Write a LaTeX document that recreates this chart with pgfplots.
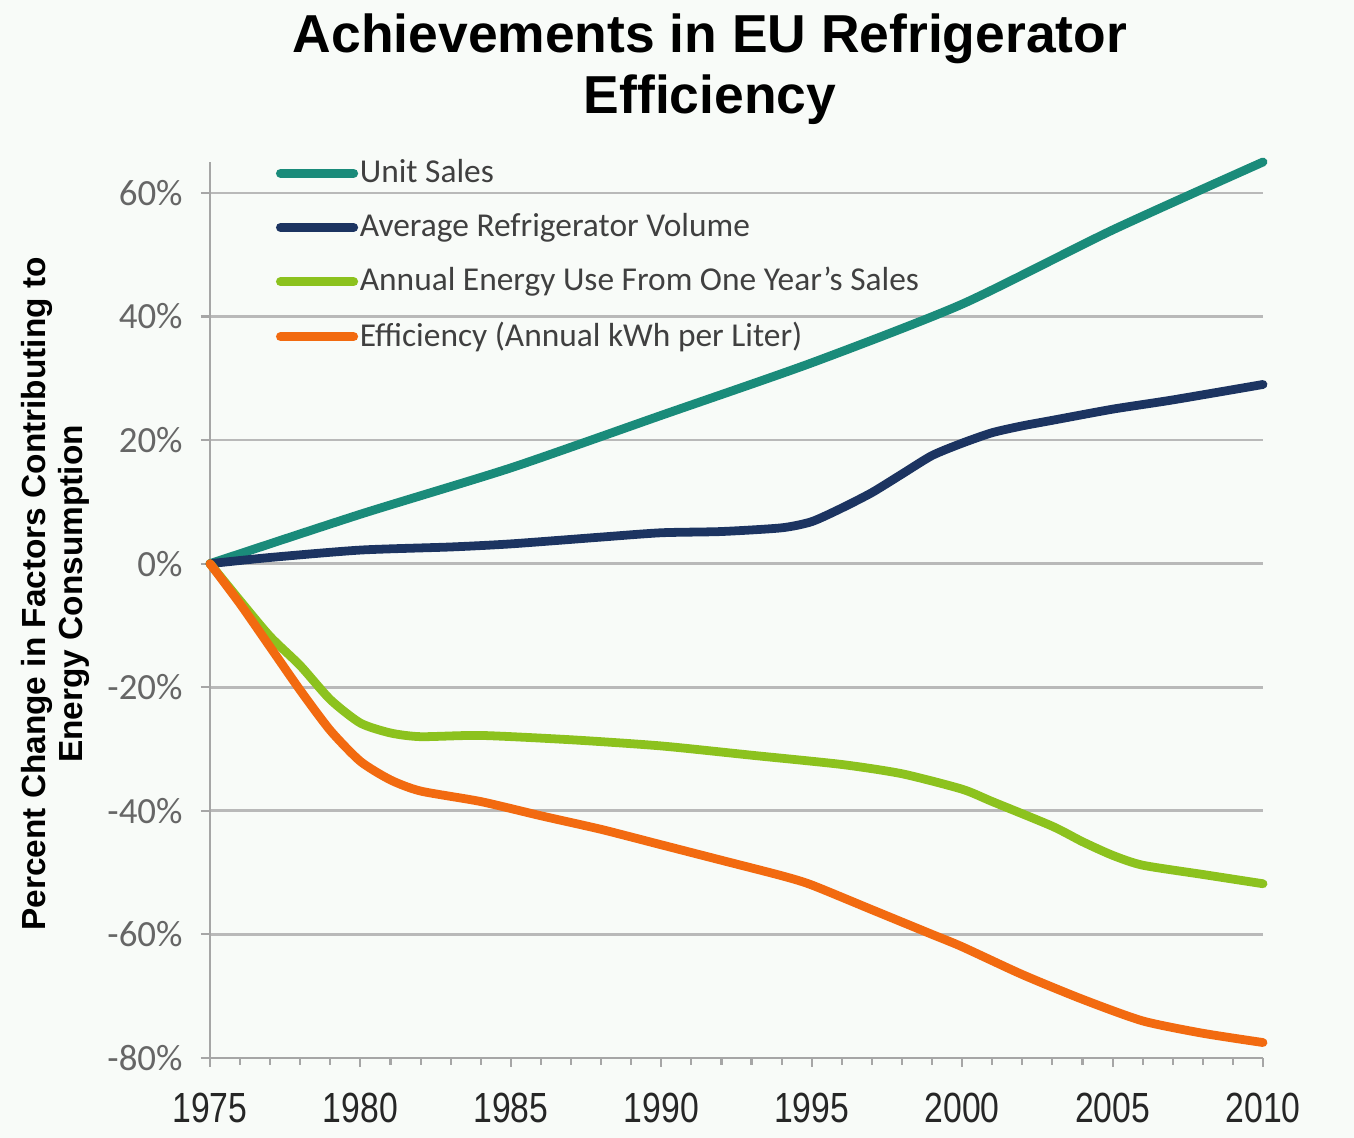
\documentclass[border=0pt]{standalone}
\usepackage{pgfplots}
\pgfplotsset{compat=1.18}
\usepackage{graphicx}
\usepackage{fontspec}
\setmainfont{Carlito}
\newfontfamily\arial{Liberation Sans}
\definecolor{teal1}{HTML}{1A8B7A}
\definecolor{navy1}{HTML}{1C3461}
\definecolor{lime1}{HTML}{8CC21E}
\definecolor{orange1}{HTML}{F26A10}
\definecolor{bg}{HTML}{F8FBF8}
\newcommand\xs[1]{\scalebox{0.8}[1]{#1}}
\begin{document}
\begin{tikzpicture}
\fill[bg] (-2.10,-0.80) rectangle (11.44,10.58);
\path[use as bounding box] (-2.10,-0.80) rectangle (11.44,10.58);
\begin{axis}[
 scale only axis, width=10.53cm, height=8.96cm,
 xmin=1975, xmax=2010, ymin=-80, ymax=65,
 axis x line=bottom, axis y line=left,
 axis line style={-, gray!70, line width=0.8pt},
 xtick={1975,1980,1985,1990,1995,2000,2005,2010},
 xticklabels={\xs{1975},\xs{1980},\xs{1985},\xs{1990},\xs{1995},\xs{2000},\xs{2005},\xs{2010}},
 minor x tick num=4,
 ytick={-80,-60,-40,-20,0,20,40,60},
 yticklabels={-80\%,-60\%,-40\%,-20\%,0\%,20\%,40\%,60\%},
 ymajorgrids, grid style={gray!55, line width=0.8pt},
 tick align=outside, major tick length=0.9mm, minor tick length=0.7mm,
 tick style={gray!70, line width=0.6pt},
 xticklabel style={font=\arial\fontsize{12}{14}\selectfont, text=black!85, yshift=-1.4mm},
 yticklabel style={font=\fontsize{10.5}{12}\selectfont, text=black!60, xshift=-0.6mm},
 clip=false,
 legend style={at={(rel axis cs:0.062,1.006)}, anchor=north west, draw=none, fill=none,
   font=\fontsize{9.5}{11}\selectfont\color{black!75}, row sep=6.3pt, inner sep=0pt,
   nodes={inner sep=0.5pt}},
 legend cell align=left,
 legend image code/.code={\draw[#1, line width=2.6pt, line cap=round] (0mm,0mm) -- (7.3mm,0mm);},
 every axis plot/.append style={line width=2.5pt, smooth, tension=0.4, line cap=round, line join=round},
]
\addplot[teal1] coordinates {(1975,0)(1980,8)(1985,15.5)(1990,24)(1995,32.5)(2000,42)(2005,54)(2010,65)};
\addlegendentry{Unit Sales}
\addplot[navy1] coordinates {(1975,0)(1977,1)(1980,2.2)(1983,2.7)(1985,3.2)(1988,4.3)(1990,5)(1992,5.2)(1994,5.8)(1995,6.8)(1996,9)(1997,11.5)(1998,14.5)(1999,17.5)(2000,19.5)(2001,21.2)(2002,22.3)(2003,23.2)(2005,25)(2007,26.5)(2010,29)};
\addlegendentry{Average Refrigerator Volume}
\addplot[lime1] coordinates {(1975,0)(1976,-6)(1977,-11.8)(1978,-16.5)(1979,-22)(1980,-25.8)(1981,-27.4)(1982,-28)(1984,-27.8)(1987,-28.5)(1990,-29.5)(1993,-31)(1996,-32.5)(1998,-34)(2000,-36.5)(2001,-38.5)(2003,-42.5)(2004,-45)(2005,-47.2)(2006,-48.8)(2008,-50.3)(2010,-51.8)};
\addlegendentry{Annual Energy Use From One Year's Sales}
\addplot[orange1] coordinates {(1975,0)(1976,-6.5)(1977,-13.5)(1978,-20.5)(1979,-27)(1980,-32)(1981,-35)(1982,-36.8)(1984,-38.5)(1986,-40.8)(1988,-43)(1990,-45.5)(1992,-48)(1994,-50.5)(1995,-52)(1997,-56)(1999,-60)(2000,-62)(2002,-66.5)(2004,-70.5)(2006,-74)(2008,-76)(2010,-77.5)};
\addlegendentry{Efficiency (Annual kWh per Liter)}
\end{axis}
\node[align=center, font=\arial\bfseries\fontsize{15.2}{17.5}\selectfont] at (5.0,9.89) {Achievements in EU Refrigerator\\Efficiency};
\node[rotate=90, align=center, font=\arial\bfseries\fontsize{9.5}{10.5}\selectfont] at (-1.55,4.64) {Percent Change in Factors Contributing to\\Energy Consumption};
\end{tikzpicture}
\end{document}
